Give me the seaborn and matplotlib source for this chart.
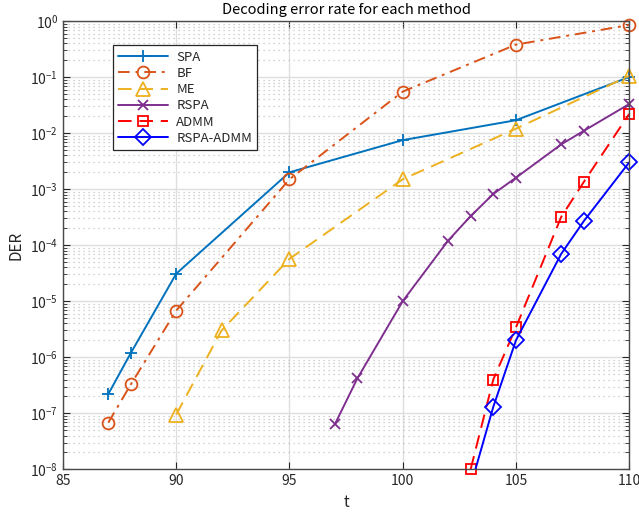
import numpy as np
import pandas as pd
import matplotlib
matplotlib.use("Agg")
import matplotlib.pyplot as plt
import seaborn as sns
from matplotlib.ticker import LogLocator, NullFormatter, MultipleLocator

# ---- data ----
t_spa = [87, 88, 90, 95, 100, 105, 110]
der_spa = [2.2e-7, 1.2e-6, 3.1e-5, 2.0e-3, 7.5e-3, 1.7e-2, 1.0e-1]

t_bf = [87, 88, 90, 95, 100, 105, 110]
der_bf = [6.8e-8, 3.3e-7, 6.8e-6, 1.5e-3, 5.5e-2, 0.38, 0.85]

t_me = [90, 92, 95, 100, 105, 110]
der_me = [9.5e-8, 3.0e-6, 5.7e-5, 1.5e-3, 1.2e-2, 0.105]

t_rspa = [97, 98, 100, 102, 103, 104, 105, 107, 108, 110]
der_rspa = [6.3e-8, 4.2e-7, 1.0e-5, 1.2e-4, 3.3e-4, 8.2e-4, 1.6e-3, 6.3e-3, 1.1e-2, 3.3e-2]

t_admm = [103, 104, 105, 107, 108, 110]
der_admm = [1.0e-8, 4.0e-7, 3.4e-6, 3.2e-4, 1.35e-3, 2.2e-2]

t_ra = [103, 104, 105, 107, 108, 110]
der_ra = [5e-9, 1.3e-7, 2.0e-6, 7.0e-5, 2.7e-4, 3.0e-3]

labels = ["SPA", "BF", "ME", "RSPA", "ADMM", "RSPA-ADMM"]
title = "Decoding error rate for each method"
xlabel = "t"
ylabel = "DER"
YMIN, YMAX = 1e-8, 1

sns.set_style("ticks")
plt.rcParams["font.family"] = ["Noto Sans CJK JP", "DejaVu Sans"]
plt.rcParams["mathtext.fontset"] = "dejavusans"
plt.rcParams["axes.unicode_minus"] = False

fig = plt.figure(figsize=(6.39, 5.14), dpi=100)
ax = fig.add_axes([0.0986, 0.087, 0.886, 0.872])

series = [
    (t_spa, der_spa, labels[0], "#0072BD", "-", "+", 9),
    (t_bf, der_bf, labels[1], "#D95319", (0, (6, 3, 1.5, 3)), "o", 8.5),
    (t_me, der_me, labels[2], "#EDB120", (0, (7, 4)), "^", 10),
    (t_rspa, der_rspa, labels[3], "#7E2F8E", "-", "x", 6.5),
    (t_admm, der_admm, labels[4], "#FF0000", (0, (7, 4)), "s", 6.5),
    (t_ra, der_ra, labels[5], "#0000FF", "-", "D", 8),
]

for t, d, lab, col, ls, mk, ms in series:
    df = pd.DataFrame({"t": t, "DER": d})
    # line (clipped to the axes) carrying the legend entry
    sns.lineplot(data=df, x="t", y="DER", ax=ax, color=col, linestyle=ls,
                 marker=mk, markersize=ms, markerfacecolor="none",
                 markeredgecolor=col, markeredgewidth=1.3, linewidth=1.4,
                 label=lab, estimator=None, sort=False, clip_on=True)
    ax.lines[-1].set_marker("None")
    # markers inside the y range, drawn unclipped like MATLAB does
    dfm = df[(df["DER"] >= YMIN) & (df["DER"] <= YMAX)]
    sns.lineplot(data=dfm, x="t", y="DER", ax=ax, color=col, linestyle="none",
                 marker=mk, markersize=ms, markerfacecolor="none",
                 markeredgecolor=col, markeredgewidth=1.3,
                 estimator=None, sort=False, clip_on=False, legend=False)

ax.set_yscale("log")
ax.set_xlim(85, 110)
ax.set_ylim(YMIN, YMAX)
ax.xaxis.set_major_locator(MultipleLocator(5))
ax.yaxis.set_major_locator(LogLocator(base=10, numticks=20))
ax.yaxis.set_minor_locator(LogLocator(base=10, subs=np.arange(2, 10), numticks=20))
ax.yaxis.set_minor_formatter(NullFormatter())

ax.grid(True, which="major", axis="both", color="#dedede", linewidth=1.0, linestyle="-")
ax.grid(True, which="minor", axis="y", color="#c4c4c4", linewidth=0.9, linestyle=(0, (1, 3)))
ax.set_axisbelow(True)

for s in ax.spines.values():
    s.set_visible(True)
    s.set_color("#4a4a4a")
    s.set_linewidth(1.0)
ax.tick_params(which="both", direction="in", top=True, right=True, colors="#262626",
               labelsize=10)
ax.tick_params(which="major", length=5, width=0.8)
ax.tick_params(which="minor", length=3, width=0.6)

ax.set_title(title, fontsize=10.5, color="#000000", pad=5)
ax.set_xlabel(xlabel, fontsize=11, labelpad=4)
ax.set_ylabel(ylabel, fontsize=11, labelpad=4)

handles, labs = ax.get_legend_handles_labels()
from matplotlib.lines import Line2D
proxy = []
for (t, d, lab, col, ls, mk, ms) in series:
    proxy.append(Line2D([], [], color=col, linestyle=ls, linewidth=1.4, marker=mk,
                        markersize=ms, markerfacecolor="none", markeredgecolor=col,
                        markeredgewidth=1.3))
leg = ax.legend(proxy, labels, loc="upper left", bbox_to_anchor=(0.088, 0.946),
                borderaxespad=0, fontsize=9.5, handlelength=3.8, fancybox=False,
                framealpha=1, edgecolor="#262626", labelspacing=0.25, borderpad=0.4,
                handletextpad=0.6)
leg.get_frame().set_linewidth(0.9)

fig.savefig("out.png", dpi=100)
